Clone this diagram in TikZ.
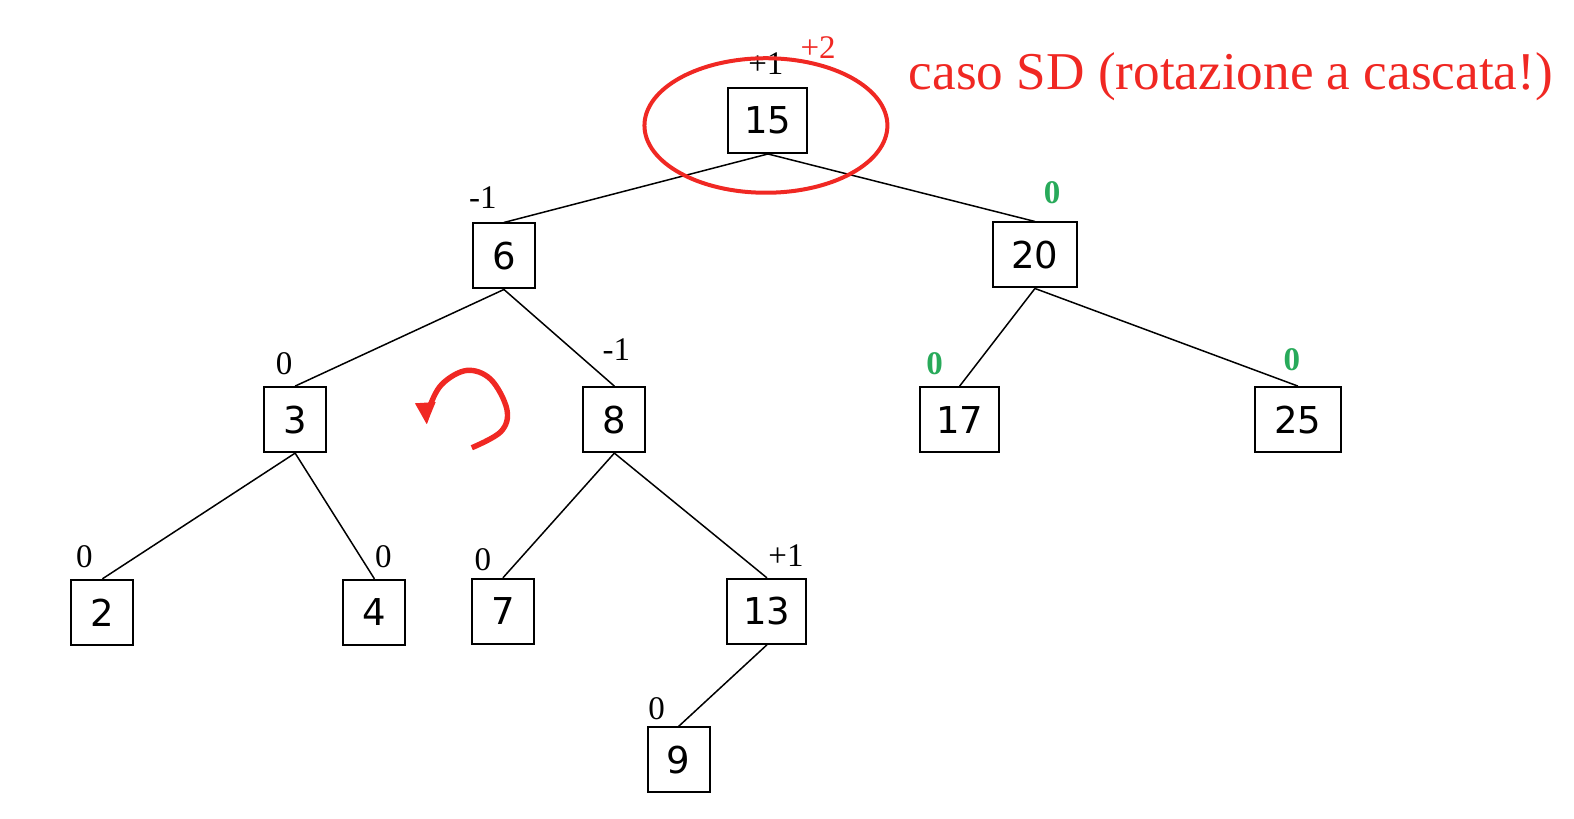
\documentclass[tikz,border=0pt]{standalone}
\usepackage{fontspec}
\setmainfont{Liberation Serif}
\newfontfamily\nodefont{DejaVu Sans}
\usetikzlibrary{arrows.meta}
\definecolor{myred}{RGB}{240,40,35}
\definecolor{mygreen}{RGB}{40,170,90}
\begin{document}
\begin{tikzpicture}[x=0.50191pt,y=-0.50191pt,
  keybox/.style={draw,line width=1pt,minimum width=31pt,minimum height=32.5pt,inner xsep=8pt,font=\nodefont\fontsize{18.5}{20}\selectfont},
  bal/.style={font=\fontsize{16.5}{18}\selectfont,inner sep=0pt},
  gbal/.style={font=\bfseries\fontsize{16.5}{18}\selectfont,inner sep=0pt,text=mygreen},
  edge/.style={line width=0.75pt}]
\useasboundingbox (0,0) rectangle (1568,815);
% nodes
\node[keybox] (n15) at (765,120) {15};
\node[keybox] (n6) at (502,255) {6};
\node[keybox,minimum width=42pt] (n20) at (1031,254) {20};
\node[keybox] (n3) at (294,418) {3};
\node[keybox] (n8) at (612,418) {8};
\node[keybox] (n17) at (956,418) {17};
\node[keybox,minimum width=43pt] (n25) at (1293,418) {25};
\node[keybox] (n2) at (102,610) {2};
\node[keybox] (n4) at (373,610) {4};
\node[keybox] (n7) at (501,609) {7};
\node[keybox] (n13) at (764,609) {13};
\node[keybox] (n9) at (676,757) {9};
% edges
\foreach \p/\c in {n15/n6,n15/n20,n6/n3,n6/n8,n20/n17,n20/n25,n3/n2,n3/n4,n8/n7,n8/n13,n13/n9}
  \draw[edge] (\p.south) -- (\c.north);
% balance labels
\node[bal] (b15) at (763,63) {+1};
\node[bal,text=myred] (b15r) at (815,47) {+2};
\node[bal] (b6) at (481,197) {-1};
\node[gbal] (b20) at (1048,192) {0};
\node[bal] (b3) at (283,362) {0};
\node[bal] (b8) at (614,348) {-1};
\node[gbal] (b17) at (931,362) {0};
\node[gbal] (b25) at (1287,358) {0};
\node[bal] (b2) at (84,555) {0};
\node[bal] (b4) at (382,555) {0};
\node[bal] (b7) at (481,558) {0};
\node[bal] (b13) at (783,553) {+1};
\node[bal] (b9) at (654,706) {0};
% title
\node[anchor=base west,inner sep=0pt,text=myred,font=\fontsize{26.6}{30}\selectfont] (title) at (905,89) {caso SD (rotazione a cascata!)};
% ellipse
\draw[myred,line width=2pt] (763,125) ellipse [x radius=121,y radius=67];
% rotation arrow
\draw[myred,line width=2.7pt,-{Triangle[length=11pt,width=9.5pt]}] plot[smooth,tension=0.6] coordinates {(470,446) (499,430) (505,408) (489,378) (465,369) (440,383) (427,408) (425,423)};
\end{tikzpicture}
\end{document}
